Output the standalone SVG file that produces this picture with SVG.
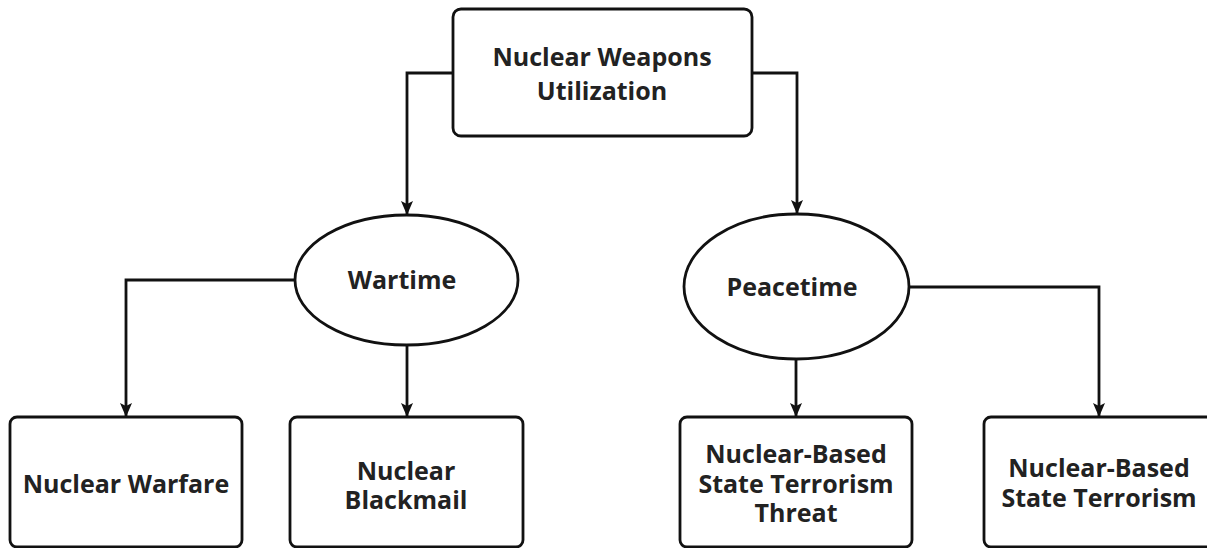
<svg xmlns="http://www.w3.org/2000/svg" width="1207" height="548" viewBox="0 0 1207 548">
<style>
.box{fill:#fff;stroke:#111;stroke-width:2.8}
.conn{fill:none;stroke:#111;stroke-width:2.8}
.t{font-family:"Open Sans","Noto Sans","Liberation Sans",sans-serif;font-weight:700;font-size:25px;fill:#222;text-anchor:middle}
</style>
<defs>
<marker id="arr" viewBox="0 0 14 12" refX="13" refY="6" markerWidth="14" markerHeight="12" markerUnits="userSpaceOnUse" orient="auto">
<path d="M0,0 L14,6 L0,12 L3,6 z" fill="#111"/>
</marker>
</defs>
<rect width="1207" height="548" fill="#fff"/>
<g id="connectors">
<path class="conn" d="M453,73 H407 V214" marker-end="url(#arr)"/>
<path class="conn" d="M752,73 H797 V213" marker-end="url(#arr)"/>
<path class="conn" d="M295,280 H126 V416" marker-end="url(#arr)"/>
<path class="conn" d="M407,345 V416" marker-end="url(#arr)"/>
<path class="conn" d="M796,359 V416" marker-end="url(#arr)"/>
<path class="conn" d="M909,287 H1099 V416" marker-end="url(#arr)"/>
</g>
<g id="root">
<rect class="box" x="453" y="9" width="299" height="127" rx="8"/>
<text class="t" x="602" y="66">Nuclear Weapons</text>
<text class="t" x="602" y="100">Utilization</text>
</g>
<g id="wartime">
<ellipse class="box" cx="406.5" cy="280" rx="111.5" ry="65"/>
<text class="t" x="402" y="289">Wartime</text>
</g>
<g id="peacetime">
<ellipse class="box" cx="796.5" cy="286.5" rx="112.5" ry="72.5"/>
<text class="t" x="792" y="296">Peacetime</text>
</g>
<g id="warfare">
<rect class="box" x="10" y="417" width="232" height="130" rx="7"/>
<text class="t" x="126" y="493">Nuclear Warfare</text>
</g>
<g id="blackmail">
<rect class="box" x="290" y="417" width="233" height="130" rx="7"/>
<text class="t" x="406" y="480">Nuclear</text>
<text class="t" x="406" y="509">Blackmail</text>
</g>
<g id="threat">
<rect class="box" x="680" y="417" width="232" height="130" rx="7"/>
<text class="t" x="796" y="463">Nuclear-Based</text>
<text class="t" x="796" y="493">State Terrorism</text>
<text class="t" x="796" y="522">Threat</text>
</g>
<g id="terrorism">
<rect class="box" x="984" y="417" width="232" height="130" rx="7"/>
<text class="t" x="1099" y="477">Nuclear-Based</text>
<text class="t" x="1099" y="507">State Terrorism</text>
</g>
</svg>
